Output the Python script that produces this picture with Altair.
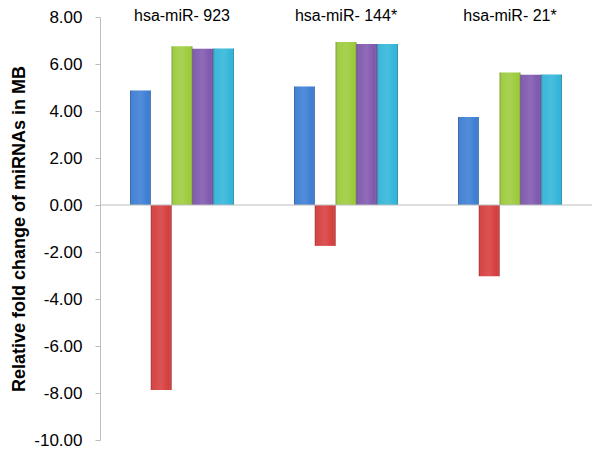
import altair as alt
import pandas as pd

groups = ["hsa-miR- 923", "hsa-miR- 144*", "hsa-miR- 21*"]
series = ["S1", "S2", "S3", "S4", "S5"]
colors = ["#3b7dd4", "#d63c3c", "#9ccb3b", "#7f57ae", "#31b5d9"]
values = {
    "S1": [4.87, 5.04, 3.75],
    "S2": [-7.87, -1.74, -3.03],
    "S3": [6.76, 6.94, 5.64],
    "S4": [6.65, 6.85, 5.54],
    "S5": [6.66, 6.85, 5.55],
}
yticks = [8, 6, 4, 2, 0, -2, -4, -6, -8, -10]

rows = []
for s in series:
    for g, v in zip(groups, values[s]):
        rows.append({"group": g, "series": s, "value": v})
df = pd.DataFrame(rows)
gdf = pd.DataFrame({"group": groups})

xenc = alt.X("group:N", sort=groups, axis=None,
             scale=alt.Scale(paddingInner=0.366, paddingOuter=0.183))
xoff = alt.XOffset("series:N", sort=series, scale=alt.Scale(paddingInner=0))
yenc = alt.Y("value:Q", scale=alt.Scale(domain=[-10, 8], nice=False, zero=False),
             axis=alt.Axis(values=yticks, grid=False,
                           labelExpr="(datum.value < 0 ? '-' : '') + format(abs(datum.value), '.2f')",
                           domainColor="#bdbdbd", tickColor="#bdbdbd", tickSize=5,
                           labelFont="Liberation Sans", labelFontSize=17,
                           labelColor="#000000", labelPadding=13,
                           title="Relative fold change of miRNAs in MB",
                           titleFont="Liberation Sans", titleFontSize=18,
                           titleFontWeight="bold", titleColor="#000000",
                           titlePadding=5))

bars = alt.Chart(df).mark_bar(strokeWidth=0).encode(
    x=xenc, xOffset=xoff, y=yenc,
    color=alt.Color("series:N", sort=series,
                    scale=alt.Scale(domain=series, range=colors), legend=None),
)

shade = alt.Chart(df).mark_bar(
    color={
        "gradient": "linear", "x1": 0, "y1": 0, "x2": 1, "y2": 0,
        "stops": [
            {"offset": 0, "color": "rgba(0,0,0,0.28)"},
            {"offset": 0.12, "color": "rgba(255,255,255,0.05)"},
            {"offset": 0.5, "color": "rgba(255,255,255,0.12)"},
            {"offset": 0.88, "color": "rgba(255,255,255,0.0)"},
            {"offset": 1, "color": "rgba(0,0,0,0.30)"},
        ],
    }
).encode(x=xenc, xOffset=xoff, y="value:Q")

zero = alt.Chart(pd.DataFrame({"v": [0]})).mark_rule(color="#bdbdbd", strokeWidth=1).encode(
    y="v:Q"
)

labels = alt.Chart(gdf).mark_text(
    font="Liberation Sans", fontSize=16, color="#000000", baseline="alphabetic", align="center"
).encode(x=alt.X("group:N", sort=groups), y=alt.value(4), text="group:N")

chart = alt.layer(bars, shade, zero, labels).properties(
    width=492, height=423,
    autosize=alt.AutoSizeParams(type="none"),
    padding={"left": 92, "top": 9, "right": 0, "bottom": 9},
).configure_view(stroke=None)

chart.save("out.html", embed_options={"renderer": "svg", "actions": False})
